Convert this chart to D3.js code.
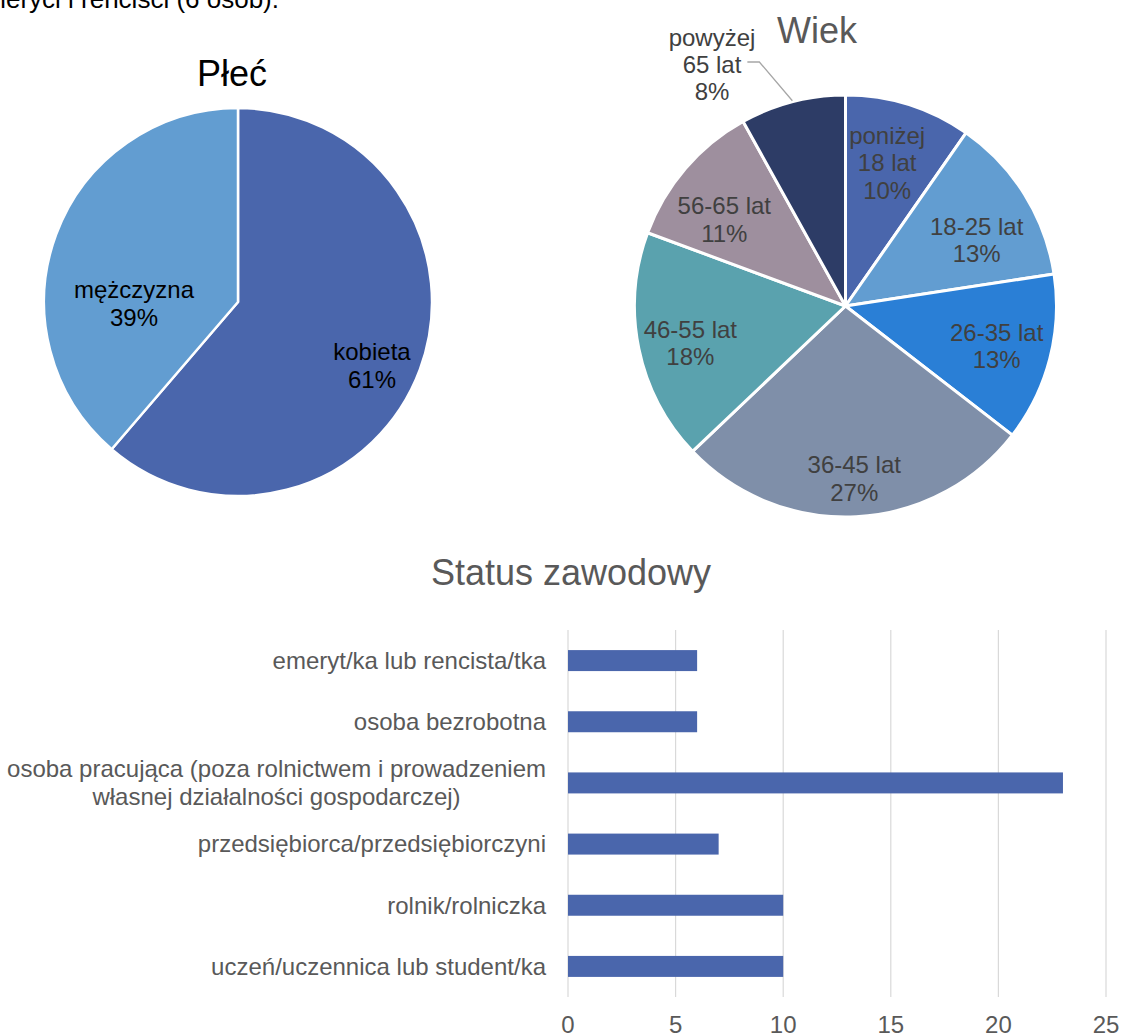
<!DOCTYPE html>
<html>
<head>
<meta charset="utf-8">
<script src="https://cdn.jsdelivr.net/npm/d3@7"></script>
<style>
  html, body { margin: 0; padding: 0; background: #fff; }
  svg { display: block; font-family: "Liberation Sans", Arial, sans-serif; }
</style>
</head>
<body>
<svg id="chart" width="1122" height="1036"></svg>
<script>
// ---------- DATA ----------
const genderCategories = ["kobieta", "mężczyzna"];
const genderCounts = [38, 24];
const genderPercents = ["61%", "39%"];

const ageCategories = ["poniżej 18 lat", "18-25 lat", "26-35 lat", "36-45 lat", "46-55 lat", "56-65 lat", "powyżej 65 lat"];
const ageLabelLines = [["poniżej", "18 lat"], ["18-25 lat"], ["26-35 lat"], ["36-45 lat"], ["46-55 lat"], ["56-65 lat"], ["powyżej", "65 lat"]];
const ageCounts = [6, 8, 8, 17, 11, 7, 5];
const agePercents = ["10%", "13%", "13%", "27%", "18%", "11%", "8%"];

const statusCategories = [
  "emeryt/ka lub rencista/tka",
  "osoba bezrobotna",
  "osoba pracująca (poza rolnictwem i prowadzeniem|własnej działalności gospodarczej)",
  "przedsiębiorca/przedsiębiorczyni",
  "rolnik/rolniczka",
  "uczeń/uczennica lub student/ka"
];
const statusValues = [6, 6, 23, 7, 10, 10];
const statusTicks = [0, 5, 10, 15, 20, 25];

// ---------- STYLE / LAYOUT ----------
const genderColors = ["#4A66AC", "#629DD1"];
const ageColors = ["#4A66AC", "#629DD1", "#2A7FD6", "#7F8FA9", "#5AA2AE", "#9E8F9E", "#2D3C66"];
const barColor = "#4A66AC";
const greyText = "#595959";
const darkText = "#404040";

const svg = d3.select("#chart");

// clipped text from preceding document text
svg.append("text").attr("x", 279).attr("y", 8).attr("text-anchor", "end")
  .attr("font-size", 26).attr("fill", "#000").text("emeryci i renciści (6 osób).");

function polar(cx, cy, r, deg) {
  const a = deg * Math.PI / 180;
  return [cx + r * Math.sin(a), cy - r * Math.cos(a)];
}
function drawLines(g, x, y, lines, size, lh, color) {
  const t = g.append("text").attr("text-anchor", "middle").attr("font-size", size).attr("fill", color);
  lines.forEach((ln, i) => {
    t.append("tspan").attr("x", x)
      .attr("y", y + (i - (lines.length - 1) / 2) * lh + size * 0.35)
      .text(ln);
  });
}

const pie = d3.pie().sort(null).value(d => d);

// ---------- PIE: Płeć ----------
{
  const cx = 238, cy = 302, r = 194;
  const g = svg.append("g");
  const arcs = pie(genderCounts);
  const arc = d3.arc().innerRadius(0).outerRadius(r);
  g.selectAll("path").data(arcs).join("path")
    .attr("transform", `translate(${cx},${cy})`)
    .attr("d", arc).attr("fill", (d, i) => genderColors[i])
    .attr("stroke", "#fff").attr("stroke-width", 2.5).attr("stroke-linejoin", "round");
  // label placement: [angle shift deg, radius fraction]
  const lp = [[5, 0.764], [-21.4, 0.536]];
  arcs.forEach((d, i) => {
    const mid = (d.startAngle + d.endAngle) / 2 * 180 / Math.PI + lp[i][0];
    const [x, y] = polar(cx, cy, r * lp[i][1], mid);
    drawLines(g, x, y, [genderCategories[i], genderPercents[i]], 24, 28, "#000");
  });
  svg.append("text").attr("x", 232).attr("y", 86).attr("text-anchor", "middle")
    .attr("font-size", 36).attr("fill", "#000").text("Płeć");
}

// ---------- PIE: Wiek ----------
{
  const cx = 845.5, cy = 306, r = 211;
  const g = svg.append("g");
  const arcs = pie(ageCounts);
  const arc = d3.arc().innerRadius(0).outerRadius(r);
  g.selectAll("path").data(arcs).join("path")
    .attr("transform", `translate(${cx},${cy})`)
    .attr("d", arc).attr("fill", (d, i) => ageColors[i])
    .attr("stroke", "#fff").attr("stroke-width", 3).attr("stroke-linejoin", "round");
  const lp = [[-1.2, 0.707], [5.2, 0.696], [0.3, 0.741], [0, 0.82], [-1.8, 0.756], [-5.2, 0.705]];
  arcs.forEach((d, i) => {
    const mid = (d.startAngle + d.endAngle) / 2 * 180 / Math.PI;
    if (i < 6) {
      const [x, y] = polar(cx, cy, r * lp[i][1], mid + lp[i][0]);
      drawLines(g, x, y, ageLabelLines[i].concat([agePercents[i]]), 24, 27.5, darkText);
    } else {
      // outside label with leader line
      const [ex, ey] = polar(cx, cy, r + 1, mid);
      g.append("polyline")
        .attr("points", `${ex},${ey} ${ex - 33},62 ${ex - 45},62`)
        .attr("fill", "none").attr("stroke", "#A6A6A6").attr("stroke-width", 1.3);
      drawLines(g, 712, 65, ageLabelLines[i].concat([agePercents[i]]), 24, 27, darkText);
    }
  });
  svg.append("text").attr("x", 817).attr("y", 43).attr("text-anchor", "middle")
    .attr("font-size", 36).attr("fill", greyText).text("Wiek");
}

// ---------- BAR: Status zawodowy ----------
{
  const x = d3.scaleLinear().domain([0, 25]).range([568, 1106]);
  const y = d3.scaleBand().domain(statusCategories).range([630, 997])
    .paddingInner(0.657).paddingOuter(0.3285);
  const g = svg.append("g");

  g.selectAll("line.grid").data(statusTicks).join("line").attr("class", "grid")
    .attr("x1", d => x(d)).attr("x2", d => x(d))
    .attr("y1", 630).attr("y2", 997)
    .attr("stroke", "#D9D9D9").attr("stroke-width", 1.2);

  g.selectAll("rect").data(statusValues).join("rect")
    .attr("x", x(0)).attr("y", (d, i) => y(statusCategories[i]))
    .attr("width", d => x(d) - x(0)).attr("height", y.bandwidth())
    .attr("fill", barColor);

  g.selectAll("text.tick").data(statusTicks).join("text").attr("class", "tick")
    .attr("x", d => x(d)).attr("y", 1033).attr("text-anchor", "middle")
    .attr("font-size", 24).attr("fill", greyText).text(d => d);

  statusCategories.forEach(cat => {
    const lines = cat.split("|");
    const cy = y(cat) + y.bandwidth() / 2;
    const t = g.append("text").attr("font-size", 24).attr("fill", greyText).attr("text-anchor", "middle");
    const spans = lines.map((ln, i) => t.append("tspan")
      .attr("y", cy + (i - (lines.length - 1) / 2) * 28 + 8.4).text(ln));
    const widths = spans.map(s => s.node().getComputedTextLength());
    const maxW = d3.max(widths);
    spans.forEach(s => s.attr("x", 546 - maxW / 2));
  });

  svg.append("text").attr("x", 571).attr("y", 585).attr("text-anchor", "middle")
    .attr("font-size", 36).attr("fill", greyText).text("Status zawodowy");
}
</script>
</body>
</html>
